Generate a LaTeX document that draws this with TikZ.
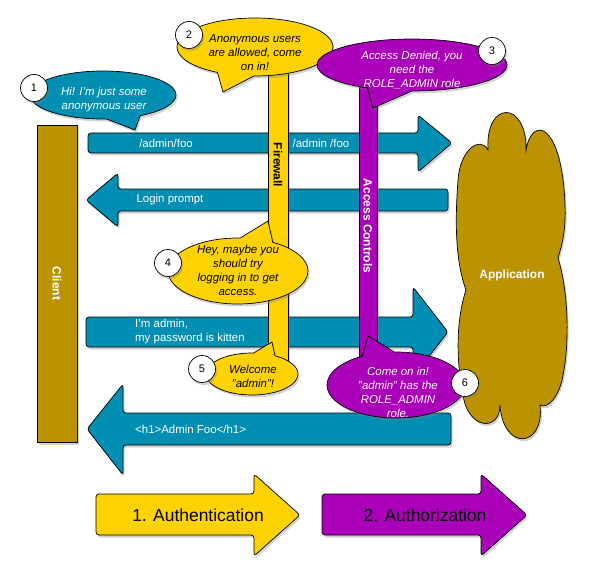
\documentclass[tikz,border=0pt]{standalone}
\usepackage{fontspec}
\setmainfont{Liberation Sans}
\usepackage{xcolor}
\usepackage{tikz}
\usetikzlibrary{shapes,shapes.callouts,shapes.geometric,positioning,shadows,calc}
\definecolor{flowteal}{RGB}{0, 142, 178}
\definecolor{appgold}{RGB}{187, 146, 0}

\begin{document}
\begin{tikzpicture}[
    x=1bp, y=-1bp,
    softshadow/.style={drop shadow={opacity=0.35, shadow xshift=1.5bp, shadow yshift=-2.5bp}},
    flowarrow/.style={
        draw=black, line width=0.7bp, fill=#1,
        rounded corners=3bp, softshadow
    },
    barbox/.style={
        rectangle, draw=black, line width=0.7bp, fill=#1,
        inner sep=0pt, softshadow
    },
    bubble/.style={
        ellipse callout, draw=black, line width=0.7bp, fill=#1,
        inner sep=0pt, callout pointer arc=28, softshadow
    },
    bubbletext/.style={font=\fontsize{11.5}{14}\selectfont\itshape, align=center, text=#1},
    numdot/.style={
        circle, draw=black, line width=0.7bp, fill=white,
        minimum size=27bp, inner sep=0pt, softshadow,
        font=\fontsize{11}{13}\selectfont
    },
    flowlabel/.style={font=\fontsize{11.5}{14}\selectfont, text=white, align=left, inner sep=0pt},
    barlabel/.style={font=\fontsize{12}{14}\selectfont\bfseries, text=#1, rotate=-90},
    phaselabel/.style={font=\fontsize{17.5}{20}\selectfont, text=black}
]
    \definecolor{authyellow}{RGB}{255, 210, 0}
    \definecolor{accesspurple}{RGB}{170, 0, 186}

    \useasboundingbox (0,0) rectangle (593,585);

    % client column
    \node[barbox=appgold, rotate=-90, minimum width=317bp, minimum height=40bp,
          font=\fontsize{12}{14}\selectfont\bfseries, text=white] (client) at (57,283.5) {Client};

    % request / response arrows
    \draw[flowarrow=flowteal] (88,133) -- (418,133) -- (418,115) -- (452,143) -- (418,172) -- (418,153) -- (88,153) -- cycle;
    \draw[flowarrow=flowteal] (448,189) -- (118,189) -- (118,173) -- (86,200) -- (118,227) -- (118,211) -- (448,211) -- cycle;
    \draw[flowarrow=flowteal] (86,317) -- (413,317) -- (413,287) -- (448,332) -- (413,377) -- (413,347) -- (86,347) -- cycle;
    \draw[flowarrow=flowteal] (451,413) -- (123,413) -- (123,384) -- (87,429) -- (123,475) -- (123,445) -- (451,445) -- cycle;

    \node[flowlabel] (reqlabel) at (166,143) {/admin/foo};
    \node[flowlabel] (fwdlabel) at (321,143) {/admin /foo};
    \node[flowlabel] (loginlabel) at (170,200) {Login prompt};
    \node[flowlabel, anchor=west] (credlabel) at (135,332) {I'm admin,\\my password is kitten};
    \node[flowlabel, anchor=west] (pagelabel) at (135,429) {<h1>Admin Foo</h1>};

    % firewall and access control bars
    \node[barbox=authyellow, minimum width=20bp, minimum height=300bp, anchor=north] (firewall) at (278,60) {};
    \node[barlabel=black] (firewalllabel) at (278,165) {Firewall};
    \node[barbox=accesspurple, minimum width=18bp, minimum height=290bp, anchor=north] (access) at (368,70) {};
    \node[barlabel=white] (accesslabel) at (368,226) {Access Controls};

    % application cloud
    \draw[draw=black, line width=0.7bp, fill=appgold, softshadow]
        (458,180) .. controls (460,150) and (480,135) .. (488,150)
        .. controls (485,100) and (527,100) .. (526,150)
        .. controls (532,115) and (562,122) .. (565,205)
        .. controls (566,230) and (562,245) .. (558,258)
        .. controls (568,290) and (570,340) .. (563,375)
        .. controls (560,395) and (548,410) .. (540,405)
        .. controls (545,448) and (503,452) .. (500,405)
        .. controls (500,432) and (468,430) .. (463,395)
        .. controls (456,360) and (456,320) .. (466,290)
        .. controls (455,260) and (455,220) .. (458,180) -- cycle;
    \node[font=\fontsize{12}{14}\selectfont\bfseries, text=white] (application) at (512,275) {Application};

    % speech bubbles
    \node[bubble=flowteal, minimum width=146bp, minimum height=48bp, callout absolute pointer={(135,130)}] (hello) at (103,95) {};
    \node[bubbletext=white] (hellotext) at (104,100) {Hi! I'm just some\\anonymous user};
    \node[numdot] (n1) at (34,88) {1};

    \node[bubble=authyellow, minimum width=156bp, minimum height=58bp, callout absolute pointer={(223,92)}] (anon) at (255,47) {};
    \node[bubbletext=black] (anontext) at (255,53) {Anonymous users\\are allowed, come\\on in!};
    \node[numdot] (n2) at (189,35) {2};

    \node[bubble=accesspurple, minimum width=190bp, minimum height=52bp, callout absolute pointer={(373,108)}] (denied) at (412,65) {};
    \node[bubbletext=white] (deniedtext) at (412,70) {Access Denied, you\\need the\\ROLE\_ADMIN role};
    \node[numdot] (n3) at (492,51) {3};

    \node[bubble=authyellow, minimum width=140bp, minimum height=66bp, callout absolute pointer={(268,221)}] (trylogin) at (238,271) {};
    \node[bubbletext=black] (tryLogintext) at (238,270) {Hey, maybe you\\should try\\logging in to get\\access.};
    \node[numdot] (n4) at (168,263) {4};

    \node[bubble=authyellow, minimum width=92bp, minimum height=42bp, callout absolute pointer={(272,342)}] (welcome) at (252,374) {};
    \node[bubbletext=black] (welcometext) at (253,376) {Welcome\\"admin"!};
    \node[numdot] (n5) at (202,369) {5};

    \node[bubble=accesspurple, minimum width=138bp, minimum height=66bp, callout absolute pointer={(368,336)}] (comein) at (396,385) {};
    \node[bubbletext=white] (comeintext) at (398,392) {Come on in!\\"admin" has the\\ROLE\_ADMIN\\role.};
    \node[numdot] (n6) at (465,383) {6};

    % phases
    \draw[flowarrow=authyellow] (96,494) -- (254,494) -- (254,474) -- (300,515) -- (254,556) -- (254,535) -- (96,535) -- cycle;
    \node[phaselabel] (authnlabel) at (198,515) {1. Authentication};
    \draw[flowarrow=accesspurple] (322,494) -- (481,494) -- (481,474) -- (527,515) -- (481,556) -- (481,535) -- (322,535) -- cycle;
    \node[phaselabel] (authzlabel) at (425,515) {2. Authorization};
\end{tikzpicture}
\end{document}
